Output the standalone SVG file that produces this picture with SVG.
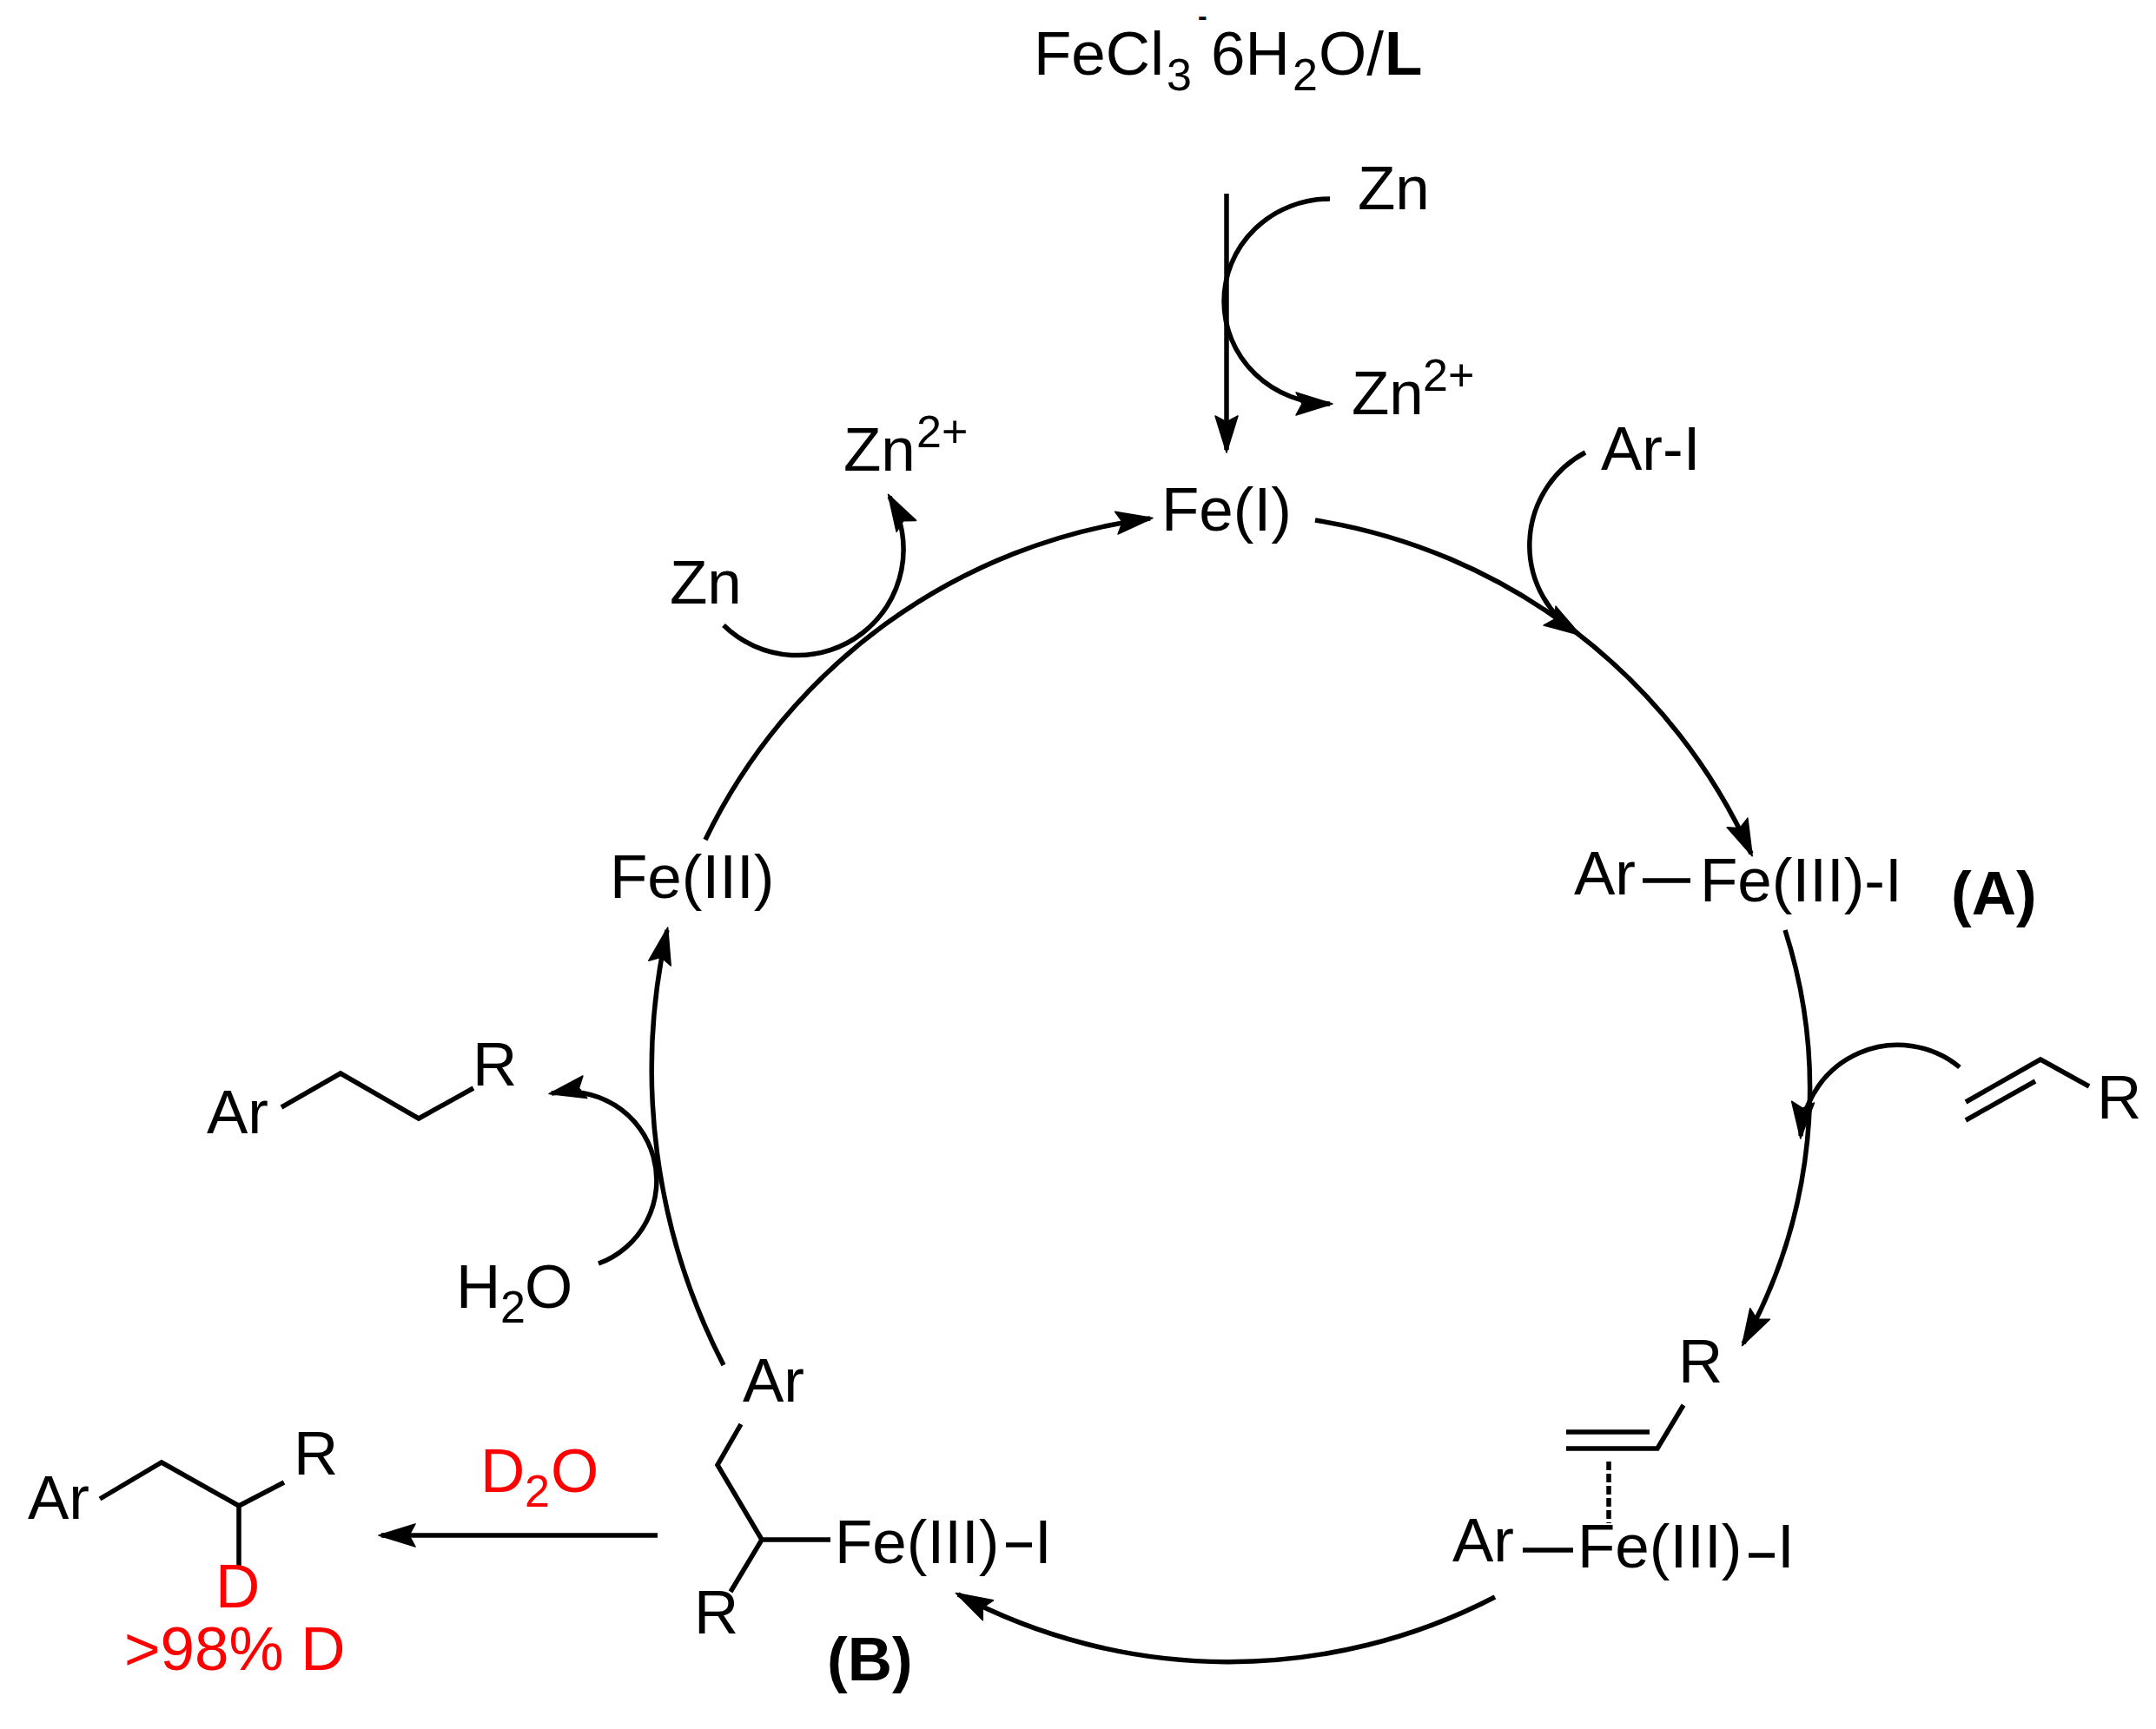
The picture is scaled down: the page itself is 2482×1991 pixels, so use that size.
<svg xmlns="http://www.w3.org/2000/svg" width="2482" height="1991" viewBox="0 0 2482 1991">
<style>
text{font-family:"Liberation Sans",Arial,sans-serif;font-size:71px;fill:#000}
.s{font-size:52px}
.b{font-weight:bold}
.r{fill:#f00}
.c{fill:none;stroke:#000;stroke-width:5.5}
.a{marker-end:url(#h)}
.d{stroke-dasharray:10 4}
</style>
<defs>
<marker id="h" markerUnits="userSpaceOnUse" markerWidth="50" markerHeight="34" refX="41" refY="15" orient="auto" overflow="visible">
<path d="M44 15L2 2L9 15L2 28Z" fill="#000" stroke="#000" stroke-width="1.5" stroke-linejoin="round"/>
</marker>
</defs>
<rect width="2482" height="1991" fill="#fff"/>
<g id="connectors">
<path class="c a" d="M1412 223V518"/>
<path class="c a" d="M1531 229A122 118 0 0 0 1531 465"/>
<path class="c a" d="M1514 599A665 665 0 0 1 2016 983"/>
<path class="c a" d="M2055 1071A600 600 0 0 1 2007 1547"/>
<path class="c a" d="M1721 1839A665 665 0 0 1 1103 1836"/>
<path class="c a" d="M833 1572A740 740 0 0 1 768 1071"/>
<path class="c a" d="M812 967A665 665 0 0 1 1324 597"/>
<path class="c a" d="M1825 521A121 121 0 0 0 1817 730"/>
<path class="c a" d="M2256 1229A112 112 0 0 0 2073 1308"/>
<path class="c a" d="M689 1455A102 102 0 0 0 635 1259"/>
<path class="c a" d="M833 720A122 122 0 0 0 1024 572"/>
<path class="c a" d="M757 1768H439"/>
</g>
<g id="precursor">
<text x="1190" y="86">FeCl</text><text class="s" x="1343" y="104">3</text>
<text class="b" style="font-size:32px" x="1379" y="29">-</text>
<text x="1394" y="86">6H</text><text class="s" x="1488" y="104">2</text>
<text x="1518" y="86">O/</text><text class="b" x="1594" y="86">L</text>
</g>
<g id="zn-top"><text x="1563" y="241">Zn</text></g>
<g id="zn2-top"><text x="1556" y="477">Zn</text><text class="s" x="1638" y="450">2+</text></g>
<g id="fe-i"><text x="1337" y="611">Fe(I)</text></g>
<g id="ar-i"><text x="1843" y="541">Ar-I</text></g>
<g id="zn2-left"><text x="971" y="542">Zn</text><text class="s" x="1055" y="515">2+</text></g>
<g id="zn-left"><text x="771" y="695">Zn</text></g>
<g id="fe-iii"><text x="702" y="1034">Fe(III)</text></g>
<g id="intermediate-a">
<text x="1812" y="1030">Ar</text>
<path class="c" d="M1891 1014H1946"/>
<text x="1957" y="1038">Fe(III)-I</text>
<text class="b" x="2246" y="1053">(A)</text>
</g>
<g id="alkene">
<path class="c" d="M2263 1269L2349 1220L2405 1251M2263 1290L2343 1245"/>
<text x="2414" y="1288">R</text>
</g>
<g id="pi-complex">
<text x="1932" y="1592">R</text>
<path class="c" d="M1938 1618L1908 1668H1803M1803 1649H1899"/>
<path class="c d" d="M1852 1683V1754"/>
<text x="1672" y="1798">Ar</text>
<path class="c" d="M1753 1785H1811"/>
<text x="1816" y="1805">Fe(III)</text>
<path class="c" d="M2013 1791H2043"/>
<text x="2046" y="1805">I</text>
</g>
<g id="intermediate-b">
<text x="855" y="1614">Ar</text>
<path class="c" d="M853 1640L826 1687L877 1773H956M877 1773L841 1833"/>
<text x="961" y="1800">Fe(III)</text>
<path class="c" d="M1158 1779H1188"/>
<text x="1191" y="1800">I</text>
<text x="799" y="1881">R</text>
<text class="b" x="952" y="1935">(B)</text>
</g>
<g id="product-h">
<text x="238" y="1305">Ar</text>
<path class="c" d="M324 1275L392 1236L482 1288L545 1253"/>
<text x="544" y="1250">R</text>
</g>
<g id="water"><text x="525" y="1506">H</text><text class="s" x="576" y="1523">2</text><text x="604" y="1506">O</text></g>
<g id="d2o"><text class="r" x="553" y="1718">D</text><text class="s r" x="604" y="1735">2</text><text class="r" x="634" y="1718">O</text></g>
<g id="product-d">
<text x="32" y="1749">Ar</text>
<path class="c" d="M115 1726L186 1684L275 1734L327 1707M275 1734V1805"/>
<text x="338" y="1698">R</text>
<text class="r" x="248" y="1851">D</text>
<text class="r" x="143" y="1923">&gt;98% D</text>
</g>
</svg>
